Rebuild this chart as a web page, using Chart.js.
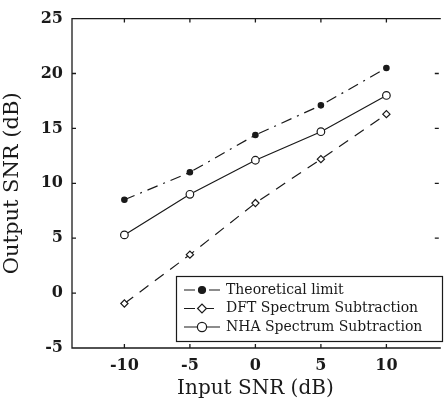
<!DOCTYPE html>
<html>
<head>
<meta charset="utf-8">
<script src="https://cdn.jsdelivr.net/npm/chart.js@4"></script>
<style>
	html, body { margin: 0; padding: 0; background: #fff; }
	#wrap { width: 444px; height: 405px; }
</style>
</head>
<body>
<div id="wrap"><canvas id="snr"></canvas></div>
<script>
	const inputSnr = [-10, -5, 0, 5, 10];
	const theoretical = [8.5, 11.0, 14.4, 17.1, 20.5];
	const dftSub = [-0.95, 3.5, 8.2, 12.2, 16.3];
	const nhaSub = [5.3, 9.0, 12.1, 14.7, 18.0];
	const xTicks = [-10, -5, 0, 5, 10];
	const yTicks = [-5, 0, 5, 10, 15, 20, 25];

	const ink = '#1a1a1a';
	const serif = '"DejaVu Serif", "Liberation Serif", serif';

	function pairs(values) {
		return inputSnr.map(function (x, i) {
			return { x: x, y: values[i] };
		});
	}

	// inward tick marks and the frame round the plot
	const framePlugin = {
		id: 'frame',
		afterDraw: function (chart) {
			const ctx = chart.ctx;
			const a = chart.chartArea;
			const xs = chart.scales.x;
			const ys = chart.scales.y;
			ctx.save();
			ctx.strokeStyle = ink;
			ctx.lineWidth = 1.3;
			ctx.beginPath();
			ctx.moveTo(a.right + 2, a.top);
			ctx.lineTo(a.left, a.top);
			ctx.lineTo(a.left, a.bottom);
			ctx.lineTo(a.right + 2, a.bottom);
			xTicks.forEach(function (v) {
				const px = xs.getPixelForValue(v);
				ctx.moveTo(px, a.bottom);
				ctx.lineTo(px, a.bottom - 4);
				ctx.moveTo(px, a.top);
				ctx.lineTo(px, a.top + 4);
			});
			yTicks.forEach(function (v) {
				const py = ys.getPixelForValue(v);
				ctx.moveTo(a.left, py);
				ctx.lineTo(a.left + 4, py);
				ctx.moveTo(a.right, py);
				ctx.lineTo(a.right - 4, py);
			});
			ctx.stroke();
			ctx.restore();
		}
	};

	// boxed legend in the lower right corner, like the original figure
	const boxLegend = {
		id: 'boxLegend',
		afterDraw: function (chart) {
			const ctx = chart.ctx;
			const left = 176, top = 276, right = 443, bottom = 342;
			ctx.save();
			ctx.fillStyle = '#fff';
			ctx.fillRect(left, top, right - left, bottom - top);
			ctx.strokeStyle = ink;
			ctx.lineWidth = 1.2;
			ctx.strokeRect(left + 0.5, top + 0.5, right - left - 1, bottom - top - 1);

			ctx.font = '14px ' + serif;
			ctx.textBaseline = 'middle';
			chart.data.datasets.forEach(function (ds, i) {
				const y = 290 + i * 18.5;
				ctx.strokeStyle = ink;
				ctx.lineWidth = 1.2;
				ctx.setLineDash(ds.borderDash || []);
				ctx.beginPath();
				ctx.moveTo(184, y);
				ctx.lineTo(220, y);
				ctx.stroke();
				ctx.setLineDash([]);
				ctx.fillStyle = ds.pointBackgroundColor;
				ctx.strokeStyle = ink;
				Chart.helpers.drawPoint(ctx, {
					pointStyle: ds.pointStyle,
					radius: ds.pointRadius + 0.8,
					borderWidth: ds.pointBorderWidth
				}, 202, y);
				ctx.fillStyle = ink;
				ctx.fillText(ds.label, 226, y);
			});
			ctx.restore();
		}
	};

	function lineSet(label, values, dash, style, radius, fill) {
		return {
			label: label,
			data: pairs(values),
			borderColor: ink,
			borderWidth: 1.2,
			borderDash: dash,
			pointStyle: style,
			pointRadius: radius,
			pointBorderWidth: 1.2,
			pointBorderColor: ink,
			pointBackgroundColor: fill,
			fill: false,
			tension: 0
		};
	}

	new Chart(document.getElementById('snr'), {
		type: 'line',
		data: {
			datasets: [
				lineSet('Theoretical limit', theoretical, [11, 6, 2, 6], 'circle', 2.7, ink),
				lineSet('DFT Spectrum Subtraction', dftSub, [11, 8], 'rectRot', 3.6, '#fff'),
				lineSet('NHA Spectrum Subtraction', nhaSub, [], 'circle', 3.8, '#fff')
			]
		},
		options: {
			responsive: true,
			maintainAspectRatio: false,
			animation: false,
			layout: { padding: { top: 15, right: 0, left: 0, bottom: 0 } },
			plugins: {
				legend: { display: false },
				tooltip: { enabled: false }
			},
			scales: {
				x: {
					type: 'linear',
					min: -14,
					max: 14,
					afterBuildTicks: function (scale) {
						scale.ticks = xTicks.map(function (v) { return { value: v }; });
					},
					afterFit: function (scale) { scale.height = 57; },
					grid: { display: false, drawTicks: false },
					border: { display: false },
					ticks: {
						color: ink,
						padding: 8,
						maxRotation: 0,
						font: { family: serif, size: 16, weight: 'bold' },
						callback: function (v) { return v < 0 ? '-' + Math.abs(v) : String(v); }
					},
					title: {
						display: true,
						text: 'Input SNR (dB)',
						color: ink,
						padding: { top: 0 },
						font: { family: serif, size: 20 }
					}
				},
				y: {
					type: 'linear',
					min: -5,
					max: 25,
					afterBuildTicks: function (scale) {
						scale.ticks = yTicks.map(function (v) { return { value: v }; });
					},
					afterFit: function (scale) { scale.width = 72; },
					grid: { display: false, drawTicks: false },
					border: { display: false },
					ticks: {
						color: ink,
						padding: 9,
						font: { family: serif, size: 16, weight: 'bold' }
					},
					title: {
						display: true,
						text: 'Output SNR (dB)',
						color: ink,
						padding: { top: 0, bottom: 0 },
						font: { family: serif, size: 21 }
					}
				}
			}
		},
		plugins: [framePlugin, boxLegend]
	});
</script>
</body>
</html>
